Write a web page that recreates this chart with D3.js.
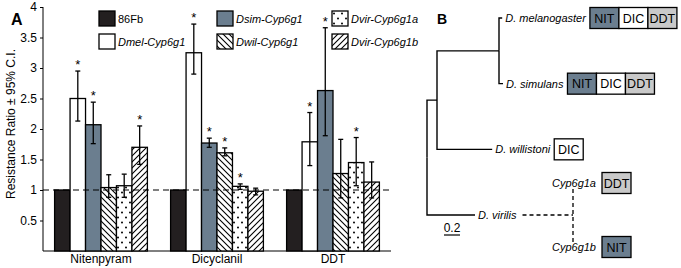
<!DOCTYPE html>
<html>
<head>
<meta charset="utf-8">
<script src="https://cdn.jsdelivr.net/npm/d3@7"></script>
<style>
  body { margin: 0; background: #fff; }
  svg { font-family: "Liberation Sans", Arial, sans-serif; }
</style>
</head>
<body>
<div id="chart"></div>
<script>
// panel A data
let groups = ["Nitenpyram", "Dicyclanil", "DDT"];
let strains = ["86Fb", "Dmel-Cyp6g1", "Dsim-Cyp6g1", "Dwil-Cyp6g1", "Dvir-Cyp6g1a", "Dvir-Cyp6g1b"];
let ratios = [
    [1, 2.50, 2.07, 1.04, 1.07, 1.70],
    [1, 3.25, 1.77, 1.61, 1.06, 0.98],
    [1, 1.79, 2.63, 1.27, 1.45, 1.13]
];
let ciLow = [
    [null, 2.13, 1.76, 0.88, 0.88, 1.42],
    [null, 2.90, 1.70, 1.56, 1.01, 0.92],
    [null, 1.40, 1.89, 0.87, 1.07, 0.87]
];
let ciHigh = [
    [null, 2.95, 2.44, 1.25, 1.26, 2.05],
    [null, 3.72, 1.85, 1.69, 1.10, 1.03],
    [null, 2.27, 3.66, 1.83, 1.86, 1.46]
];
let signif = [
    [0, 1, 1, 0, 0, 1],
    [0, 1, 1, 1, 1, 0],
    [0, 1, 1, 0, 1, 0]
];
let yTicks = [0.5, 1, 1.5, 2, 2.5, 3, 3.5, 4];

// panel B data
let tree = {name: "root", children: [
    {name: "n1", len: 0.125, children: [
        {name: "n2", len: 0.775, children: [
            {name: "D. melanogaster", len: 0.04},
            {name: "D. simulans", len: 0.05}
        ]},
        {name: "D. willistoni", len: 0.69}
    ]},
    {name: "D. virilis", len: 0.6}
]};
let leafOrder = ["D. melanogaster", "D. simulans", "D. willistoni", "D. virilis"];
let resistance = {
    "D. melanogaster": ["NIT", "DIC", "DDT"],
    "D. simulans": ["NIT", "DIC", "DDT"],
    "D. willistoni": ["DIC"],
    "Cyp6g1a": ["DDT"],
    "Cyp6g1b": ["NIT"]
};
let paralogs = ["Cyp6g1a", "Cyp6g1b"];

let slate = "#6b7e8f";
let insectColor = {NIT: slate, DIC: "#ffffff", DDT: "#c9c9c9"};

let svg = d3.select("#chart").append("svg")
    .attr("width", 681)
    .attr("height", 268);

let defs = svg.append("defs");
defs.append("pattern").attr("id", "back").attr("patternUnits", "userSpaceOnUse")
    .attr("width", 6).attr("height", 6)
    .call(p => {
        p.append("rect").attr("width", 6).attr("height", 6).attr("fill", "#fff");
        p.append("path").attr("d", "M0,0L6,6M-1,5L1,7M5,-1L7,1").attr("stroke", "#000").attr("stroke-width", 1.1);
    });
defs.append("pattern").attr("id", "fwd").attr("patternUnits", "userSpaceOnUse")
    .attr("width", 6).attr("height", 6)
    .call(p => {
        p.append("rect").attr("width", 6).attr("height", 6).attr("fill", "#fff");
        p.append("path").attr("d", "M0,6L6,0M-1,1L1,-1M5,7L7,5").attr("stroke", "#000").attr("stroke-width", 1.1);
    });
defs.append("pattern").attr("id", "dots").attr("patternUnits", "userSpaceOnUse")
    .attr("width", 8).attr("height", 10)
    .call(p => {
        p.append("rect").attr("width", 8).attr("height", 10).attr("fill", "#fff");
        p.append("circle").attr("cx", 2).attr("cy", 2.5).attr("r", 1).attr("fill", "#000");
        p.append("circle").attr("cx", 6).attr("cy", 7.5).attr("r", 1).attr("fill", "#000");
    });
let fills = ["#231f20", "#ffffff", slate, "url(#back)", "url(#dots)", "url(#fwd)"];

// ---- panel A
let x0 = d3.scaleBand().domain(groups).range([43, 391]).paddingInner(0.2).paddingOuter(0.1);
let x1 = d3.scaleBand().domain(strains).range([0, x0.bandwidth()]);
let y = d3.scaleLinear().domain([0, 4]).range([251, 7]);

let rows = [];
groups.forEach((g, gi) => {
    strains.forEach((s, si) => {
        rows.push({g: g, s: s, si: si, v: ratios[gi][si], lo: ciLow[gi][si], hi: ciHigh[gi][si], sig: signif[gi][si]});
    });
});

svg.append("g").attr("class", "y axis")
    .attr("transform", "translate(43,0)")
    .call(d3.axisLeft(y).tickValues(yTicks).tickSize(3).tickFormat(d3.format("")))
    .call(g => g.selectAll("text").attr("font-size", 12).attr("font-family", null).attr("fill", "#000"))
    .call(g => g.select(".domain").attr("d", "M0," + y(4) + "V" + y(0)));

svg.append("line")
    .attr("x1", 43).attr("x2", 391)
    .attr("y1", y(0)).attr("y2", y(0))
    .attr("stroke", "#000");

svg.selectAll(".bar").data(rows).enter().append("rect")
    .attr("class", "bar")
    .attr("x", d => x0(d.g) + x1(d.s))
    .attr("width", x1.bandwidth())
    .attr("y", d => y(d.v))
    .attr("height", d => y(0) - y(d.v))
    .attr("fill", d => fills[d.si])
    .attr("stroke", "#000")
    .attr("stroke-width", 1.3);

let errs = rows.filter(d => d.lo !== null);
let eg = svg.selectAll(".err").data(errs).enter().append("g")
    .attr("class", "err")
    .attr("transform", d => "translate(" + (x0(d.g) + x1(d.s) + x1.bandwidth() / 2) + ",0)");
eg.append("line").attr("y1", d => y(d.lo)).attr("y2", d => y(d.hi)).attr("stroke", "#000").attr("stroke-width", 1.3);
eg.append("line").attr("x1", -2.5).attr("x2", 2.5).attr("y1", d => y(d.lo)).attr("y2", d => y(d.lo)).attr("stroke", "#000").attr("stroke-width", 1.3);
eg.append("line").attr("x1", -2.5).attr("x2", 2.5).attr("y1", d => y(d.hi)).attr("y2", d => y(d.hi)).attr("stroke", "#000").attr("stroke-width", 1.3);
eg.filter(d => d.sig).append("text")
    .attr("y", d => y(d.hi) - 2)
    .attr("text-anchor", "middle")
    .attr("font-size", 13)
    .text("*");

svg.append("line")
    .attr("x1", 43).attr("x2", 391)
    .attr("y1", y(1)).attr("y2", y(1))
    .attr("stroke", "#000").attr("stroke-width", 1.2)
    .attr("stroke-dasharray", "6,4");

svg.selectAll(".grpLabel").data(groups).enter().append("text")
    .attr("x", d => x0(d) + x0.bandwidth() / 2)
    .attr("y", 263)
    .attr("text-anchor", "middle")
    .attr("font-size", 12)
    .text(d => d);

svg.append("text")
    .attr("transform", "translate(15,124) rotate(-90)")
    .attr("text-anchor", "middle")
    .attr("font-size", 12)
    .text("Resistance Ratio ± 95% C.I.");

svg.append("text").attr("x", 11).attr("y", 25).attr("font-size", 16).attr("font-weight", "bold").text("A");

// legend
let legCols = [99, 217, 332];
let legend = svg.selectAll(".leg").data(strains).enter().append("g")
    .attr("class", "leg")
    .attr("transform", (d, i) => "translate(" + legCols[Math.floor(i / 2)] + "," + (i % 2 === 0 ? 11 : 34) + ")");
legend.append("rect")
    .attr("width", 16).attr("height", 15)
    .attr("fill", (d, i) => fills[i])
    .attr("stroke", "#000").attr("stroke-width", 1.3);
legend.append("text")
    .attr("x", 19).attr("y", 12)
    .attr("font-size", 11)
    .attr("font-style", (d, i) => i === 0 ? "normal" : "italic")
    .text(d => d);

// ---- panel B
let bx = d3.scaleLinear().domain([0, 0.2]).range([427, 443]);
let leafY = d3.scalePoint().domain(leafOrder).range([18, 215]);

let root = d3.hierarchy(tree);
root.each(n => { n.dist = n.parent ? n.parent.dist + n.data.len : 0; });
root.eachAfter(n => {
    n.py = n.children ? d3.mean(n.children, c => c.py) : leafY(n.data.name);
});

let tg = svg.append("g").attr("class", "tree");
tg.selectAll(".branch").data(root.descendants().filter(n => n.parent)).enter().append("path")
    .attr("class", "branch")
    .attr("d", n => "M" + bx(n.parent.dist) + "," + n.parent.py + "V" + n.py + "H" + bx(n.dist))
    .attr("fill", "none").attr("stroke", "#000").attr("stroke-width", 1.4);

function boxes(g, list, x0b, yc) {
    list.forEach((k, i) => {
        g.append("rect")
            .attr("x", x0b + i * 29).attr("y", yc - 10.5)
            .attr("width", 29).attr("height", 21)
            .attr("fill", insectColor[k]).attr("stroke", "#000").attr("stroke-width", 1.3);
        g.append("text")
            .attr("x", x0b + i * 29 + 14.5).attr("y", yc + 4.5)
            .attr("text-anchor", "middle").attr("font-size", 12.5)
            .text(k);
    });
}

root.leaves().forEach(n => {
    let t = tg.append("text")
        .attr("x", bx(n.dist) + 3).attr("y", n.py + 4)
        .attr("font-size", 11).attr("font-style", "italic")
        .text(n.data.name);
    if (resistance[n.data.name]) {
        let w = t.node().getComputedTextLength();
        boxes(tg, resistance[n.data.name], bx(n.dist) + 3 + w + 4, n.py);
    }
    if (n.data.name === "D. virilis") {
        let w = t.node().getComputedTextLength();
        let dupX = 573;
        let py = d3.scalePoint().domain(paralogs).range([n.py - 32, n.py + 32]);
        tg.append("line")
            .attr("x1", bx(n.dist) + 3 + w + 6).attr("x2", dupX)
            .attr("y1", n.py).attr("y2", n.py)
            .attr("stroke", "#000").attr("stroke-width", 1.3).attr("stroke-dasharray", "4,3");
        tg.append("line")
            .attr("x1", dupX).attr("x2", dupX)
            .attr("y1", py(paralogs[0]) + 6).attr("y2", py(paralogs[1]) - 5)
            .attr("stroke", "#000").attr("stroke-width", 1.3).attr("stroke-dasharray", "4,3");
        paralogs.forEach(p => {
            tg.append("text")
                .attr("x", 596).attr("y", py(p) + 4)
                .attr("text-anchor", "end")
                .attr("font-size", 11).attr("font-style", "italic")
                .text(p);
            boxes(tg, resistance[p], 602, py(p));
        });
    }
});

// scale bar
tg.append("line")
    .attr("x1", bx(0.2125)).attr("x2", bx(0.4125))
    .attr("y1", 235).attr("y2", 235)
    .attr("stroke", "#000").attr("stroke-width", 1.2);
tg.append("text")
    .attr("x", (bx(0.2125) + bx(0.4125)) / 2).attr("y", 232)
    .attr("text-anchor", "middle").attr("font-size", 12)
    .text("0.2");

svg.append("text").attr("x", 437).attr("y", 24).attr("font-size", 14).attr("font-weight", "bold").text("B");
</script>
</body>
</html>
